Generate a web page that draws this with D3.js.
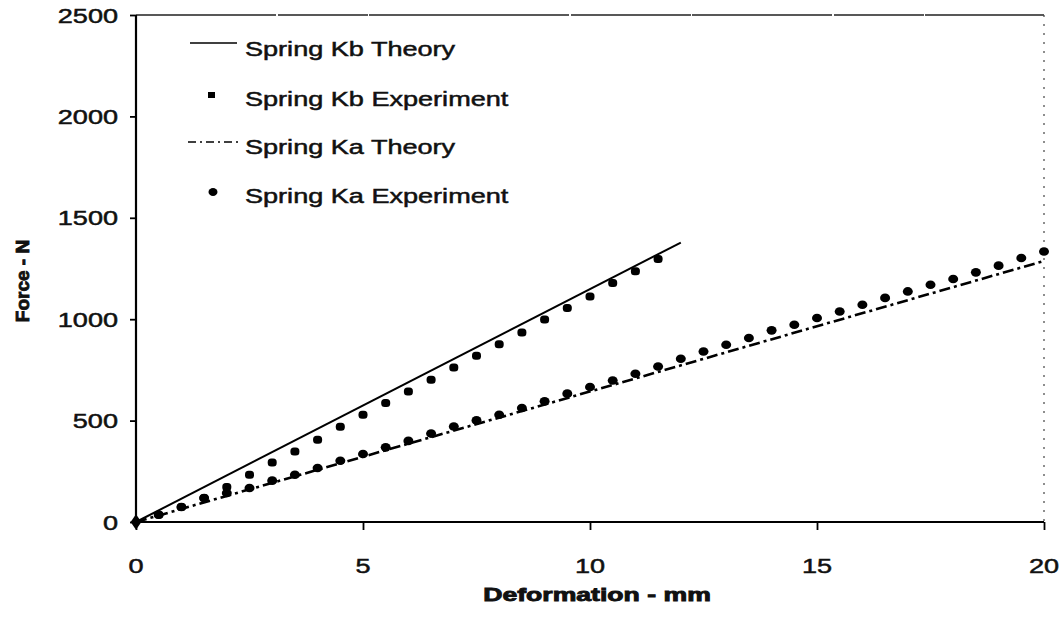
<!DOCTYPE html>
<html>
<head>
<meta charset="utf-8">
<script src="https://cdn.jsdelivr.net/npm/d3@7"></script>
<style>
  html, body { margin: 0; padding: 0; background: #fff; }
  svg { display: block; }
  text { font-family: "Liberation Sans", Arial, Helvetica, sans-serif; fill: #111; stroke: #111; stroke-width: 0.5px; }
  text.title { stroke-width: 0.9px; }
</style>
</head>
<body>
<svg id="chart" width="1062" height="627"></svg>
<script>
// Deformation (mm) sampled every 0.5 mm
const kbDeform = [0,0.5,1,1.5,2,2.5,3,3.5,4,4.5,5,5.5,6,6.5,7,7.5,8,8.5,9,9.5,10,10.5,11,11.5];
const kbForce  = [0,36,74,118,173,233,294,348,406,470,529,587,644,702,762,820,876,935,998,1055,1112,1179,1236,1297];

const kaDeform = [0,0.5,1,1.5,2,2.5,3,3.5,4,4.5,5,5.5,6,6.5,7,7.5,8,8.5,9,9.5,10,10.5,11,11.5,12,12.5,13,13.5,14,14.5,15,15.5,16,16.5,17,17.5,18,18.5,19,19.5,20];
const kaForce  = [0,36,74,118,143,168,204,233,266,302,335,368,400,436,471,501,529,562,595,633,666,698,731,767,805,841,874,907,945,973,1006,1038,1071,1105,1137,1170,1198,1231,1264,1302,1334];

// Theoretical straight lines (deformation, force)
const kbTheoryDeform = [0, 12];
const kbTheoryForce  = [0, 1378];
const kaTheoryDeform = [0, 20];
const kaTheoryForce  = [0, 1287];

const xTicks = [0, 5, 10, 15, 20];
const yTicks = [0, 500, 1000, 1500, 2000, 2500];

const legendLabels = ["Spring Kb Theory", "Spring Kb Experiment", "Spring Ka Theory", "Spring Ka Experiment"];

const svg = d3.select("#chart");
const x = d3.scaleLinear().domain([0, 20]).range([136, 1044]);
const y = d3.scaleLinear().domain([0, 2500]).range([522, 15]);
const SX = 1.29; // horizontal stretch of the lettering

function stretchedText(parent, tx, ty, str, opts) {
  const g = parent.append("g").attr("transform", `translate(${tx},${ty}) scale(${opts.sx || SX},1)`);
  return g.append("text")
    .attr("class", opts.cls || null)
    .attr("text-anchor", opts.anchor || "start")
    .attr("font-size", opts.size || 21)
    .attr("font-weight", opts.weight || "normal")
    .text(str);
}

// Frame: top edge and dotted right edge
svg.append("line").attr("x1", x(0)).attr("x2", x(20)).attr("y1", y(2500)).attr("y2", y(2500))
  .attr("stroke", "#222").attr("stroke-width", 1.7).attr("stroke-dasharray", "140,2,90,1,200,2,120,1");
svg.append("line").attr("x1", x(20)).attr("x2", x(20)).attr("y1", y(2500)).attr("y2", y(0))
  .attr("stroke", "#444").attr("stroke-width", 1.2).attr("stroke-dasharray", "2,7");

// Axes
const xAxis = d3.axisBottom(x).tickValues(xTicks).tickSize(8).tickFormat("");
const yAxis = d3.axisLeft(y).tickValues(yTicks).tickSize(6).tickFormat("");
const gx = svg.append("g").attr("transform", `translate(0,${y(0)})`).call(xAxis);
const gy = svg.append("g").attr("transform", `translate(${x(0)},0)`).call(yAxis);
[gx, gy].forEach(g => {
  g.select(".domain").attr("stroke", "#000").attr("stroke-width", 2.2);
  g.selectAll(".tick line").attr("stroke", "#000").attr("stroke-width", 1.8);
});
gx.select(".domain").attr("d", `M${x(0)},0H${x(20)}`);
gy.select(".domain").attr("d", `M0,${y(2500)}V${y(0)}`);

// Tick labels
xTicks.forEach(v => stretchedText(svg, x(v), 573, String(v), {anchor: "middle", size: 21}));
yTicks.forEach(v => stretchedText(svg, 118, y(v) + 7.5, String(v), {anchor: "end", size: 21}));

// Axis titles
stretchedText(svg, 597, 601, "Deformation - mm", {anchor: "middle", size: 19, weight: "bold", sx: 1.4, cls: "title"});
svg.append("text").attr("class", "title").attr("transform", "translate(29,281) rotate(-90)")
  .attr("text-anchor", "middle").attr("font-size", 19).attr("font-weight", "bold")
  .text("Force - N");

// Theory lines
const line = d3.line().x(d => x(d[0])).y(d => y(d[1]));
const kbTheory = d3.zip(kbTheoryDeform, kbTheoryForce);
const kaTheory = d3.zip(kaTheoryDeform, kaTheoryForce);
svg.append("path").attr("d", line(kbTheory)).attr("fill", "none").attr("stroke", "#000").attr("stroke-width", 2);
svg.append("path").attr("d", line(kaTheory)).attr("fill", "none").attr("stroke", "#000").attr("stroke-width", 2.6)
  .attr("stroke-dasharray", "11,4,3,4");

// Experimental points
const kbPts = d3.zip(kbDeform, kbForce).filter(d => d[0] > 0);
const kaPts = d3.zip(kaDeform, kaForce).filter(d => d[0] > 0);
svg.append("g").selectAll("rect").data(kbPts).join("rect")
  .attr("x", d => x(d[0]) - 4.5).attr("y", d => y(d[1]) - 4)
  .attr("width", 9).attr("height", 8).attr("rx", 3.5).attr("fill", "#000");
svg.append("g").selectAll("ellipse").data(kaPts).join("ellipse")
  .attr("cx", d => x(d[0])).attr("cy", d => y(d[1]))
  .attr("rx", 5).attr("ry", 4.3).attr("fill", "#000");
// Origin marker shared by both data sets
svg.append("path").attr("d", d3.symbol(d3.symbolDiamond, 70)())
  .attr("transform", `translate(${x(0)},${y(0)}) scale(1.2,1)`).attr("fill", "#000");

// Legend
const leg = svg.append("g");
const rows = [56, 106, 154, 203];
legendLabels.forEach((t, i) => stretchedText(leg, 245, rows[i], t, {size: 21}));
leg.append("line").attr("x1", 190).attr("x2", 237).attr("y1", 43).attr("y2", 43)
  .attr("stroke", "#000").attr("stroke-width", 1.6);
leg.append("rect").attr("x", 208).attr("y", 92).attr("width", 7).attr("height", 6).attr("fill", "#000");
leg.append("line").attr("x1", 188).attr("x2", 240).attr("y1", 142).attr("y2", 142)
  .attr("stroke", "#000").attr("stroke-width", 1.6).attr("stroke-dasharray", "8,4,2,4");
leg.append("ellipse").attr("cx", 213).attr("cy", 192).attr("rx", 4.5).attr("ry", 4).attr("fill", "#000");
</script>
</body>
</html>
